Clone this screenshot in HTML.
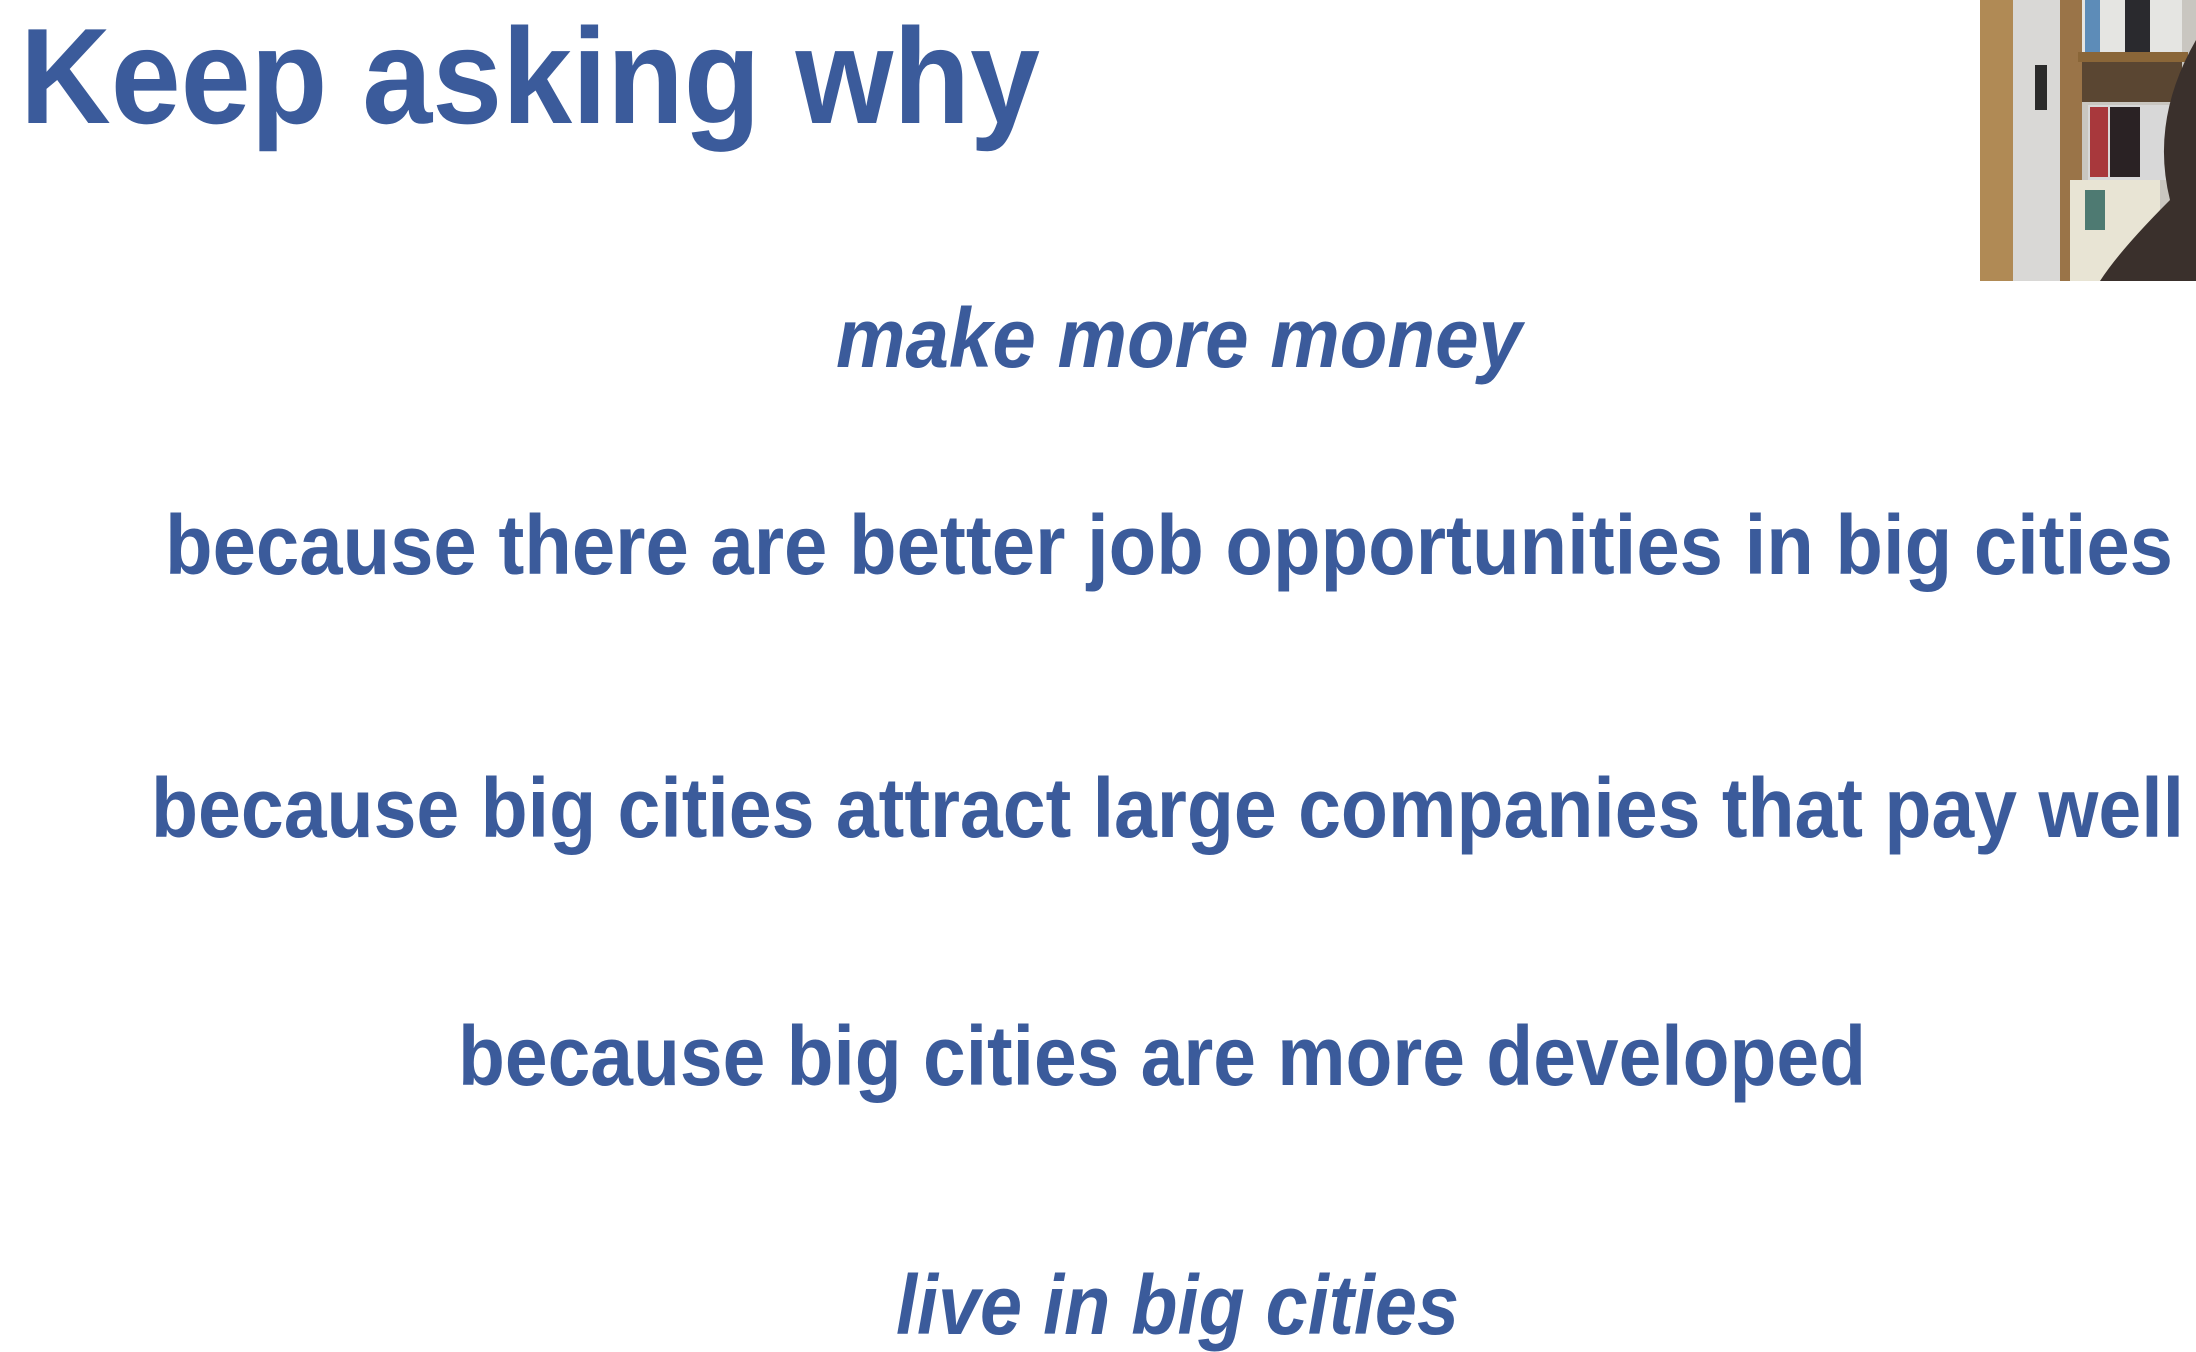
<!DOCTYPE html>
<html><head><meta charset="utf-8"><style>
html,body{margin:0;padding:0;background:#fff;}
svg{display:block;}
text{font-family:"Liberation Sans",sans-serif;font-weight:bold;fill:#3b5b9b;}
</style></head><body>
<svg width="2196" height="1352" viewBox="0 0 2196 1352">
<text x="20" y="123" font-size="136" textLength="1020" lengthAdjust="spacingAndGlyphs">Keep asking why</text>
<text x="836" y="367" font-size="84" font-style="italic" textLength="686" lengthAdjust="spacingAndGlyphs">make more money</text>
<text x="165" y="574" font-size="84" textLength="2008" lengthAdjust="spacingAndGlyphs">because there are better job opportunities in big cities</text>
<text x="151" y="837" font-size="84" textLength="2033" lengthAdjust="spacingAndGlyphs">because big cities attract large companies that pay well</text>
<text x="458" y="1085" font-size="84" textLength="1408" lengthAdjust="spacingAndGlyphs">because big cities are more developed</text>
<text x="896" y="1334" font-size="84" font-style="italic" textLength="563" lengthAdjust="spacingAndGlyphs">live in big cities</text>
<g>
<rect x="1980" y="0" width="216" height="281" fill="#c9c6c0"/>
<rect x="1980" y="0" width="33" height="281" fill="#b08a55"/>
<rect x="2013" y="0" width="47" height="281" fill="#d9d8d6"/>
<rect x="2035" y="65" width="12" height="45" fill="#2a2a2a"/>
<rect x="2060" y="0" width="22" height="281" fill="#9a7448"/>
<rect x="2082" y="0" width="100" height="52" fill="#e5e5e2"/>
<rect x="2085" y="0" width="15" height="52" fill="#5d8cb8"/>
<rect x="2125" y="0" width="25" height="52" fill="#2a2a2e"/>
<rect x="2078" y="52" width="110" height="10" fill="#8a6638"/>
<rect x="2082" y="62" width="100" height="40" fill="#5a4632"/>
<rect x="2088" y="105" width="95" height="75" fill="#d8d8d8"/>
<rect x="2090" y="107" width="18" height="70" fill="#a8383c"/>
<rect x="2110" y="107" width="30" height="70" fill="#2a2224"/>
<rect x="2070" y="180" width="90" height="101" fill="#e8e4d4"/>
<rect x="2085" y="190" width="20" height="40" fill="#4e7a72"/>
<path d="M2196 40 Q2150 120 2170 200 Q2120 250 2100 281 L2196 281 Z" fill="#3a302c"/>
</g>
</svg>
</body></html>
